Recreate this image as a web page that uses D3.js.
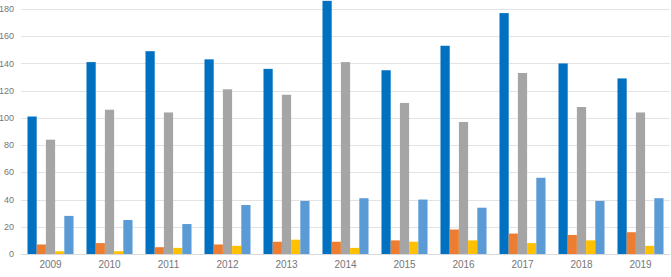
<!DOCTYPE html>
<html>
<head>
<meta charset="utf-8">
<script src="https://cdn.jsdelivr.net/npm/d3@7"></script>
<style>
  body { margin: 0; background: #fff; }
  text { font-family: "Liberation Sans Narrow", "Arial Narrow", "Liberation Sans", sans-serif; }
</style>
</head>
<body>
<div id="chart"></div>
<script>
const years = ["2009", "2010", "2011", "2012", "2013", "2014", "2015", "2016", "2017", "2018", "2019"];
const seriesNames = ["s1", "s2", "s3", "s4", "s5"];
const s1 = [101, 141, 149, 143, 136, 186, 135, 153, 177, 140, 129];
const s2 = [7, 8, 5, 7, 9, 9, 10, 18, 15, 14, 16];
const s3 = [84, 106, 104, 121, 117, 141, 111, 97, 133, 108, 104];
const s4 = [2, 2, 4.5, 6, 10.5, 4.5, 9, 10, 8, 10, 6];
const s5 = [28, 25, 22, 36, 39, 41, 40, 34, 56, 39, 41];
const yTicks = [0, 20, 40, 60, 80, 100, 120, 140, 160, 180];
const colors = ["#0070C0", "#ED7D31", "#A5A5A5", "#FFC000", "#5B9BD5"];

const allSeries = [s1, s2, s3, s4, s5];

const width = 671, height = 277;
const margin = {top: 9, right: 1, bottom: 23, left: 21};
const innerW = width - margin.left - margin.right;
const innerH = height - margin.top - margin.bottom;

const svg = d3.select("#chart")
  .append("svg")
  .attr("width", width)
  .attr("height", height);

const g = svg.append("g")
  .attr("transform", `translate(${margin.left},${margin.top})`);

const x = d3.scaleBand()
  .domain(years)
  .range([0, innerW])
  .paddingInner(0.22)
  .paddingOuter(0.11);

const xs = d3.scaleBand()
  .domain(seriesNames)
  .range([0, x.bandwidth()])
  .padding(0);

const y = d3.scaleLinear()
  .domain([0, 180])
  .range([innerH, 0]);

// gridlines
g.append("g")
  .selectAll("line")
  .data(yTicks.filter(d => d > 0))
  .join("line")
    .attr("x1", 0)
    .attr("x2", innerW)
    .attr("y1", d => Math.round(y(d)) + 0.5)
    .attr("y2", d => Math.round(y(d)) + 0.5)
    .attr("stroke", "#e3e3e3")
    .attr("stroke-width", 1);

// y labels
g.append("g")
  .selectAll("text")
  .data(yTicks)
  .join("text")
    .attr("x", -7)
    .attr("y", d => y(d))
    .attr("dy", "0.35em")
    .attr("text-anchor", "end")
    .attr("font-size", 9)
    .attr("fill", "#767676")
    .text(d => d);

// bars
const groups = g.append("g")
  .selectAll("g")
  .data(years)
  .join("g")
    .attr("transform", d => `translate(${x(d)},0)`);

groups.selectAll("rect")
  .data((d, i) => allSeries.map((s, k) => ({key: seriesNames[k], value: s[i], color: colors[k]})))
  .join("rect")
    .attr("x", d => xs(d.key))
    .attr("width", xs.bandwidth())
    .attr("y", d => y(d.value))
    .attr("height", d => y(0) - y(d.value))
    .attr("fill", d => d.color);

// baseline
g.append("line")
  .attr("x1", 0)
  .attr("x2", innerW)
  .attr("y1", Math.round(y(0)) + 0.5)
  .attr("y2", Math.round(y(0)) + 0.5)
  .attr("stroke", "#d9d9d9");

// x labels
g.append("g")
  .selectAll("text")
  .data(years)
  .join("text")
    .attr("x", d => x(d) + x.bandwidth() / 2)
    .attr("y", innerH + 10)
    .attr("dy", "0.35em")
    .attr("text-anchor", "middle")
    .attr("font-size", 10)
    .attr("fill", "#767676")
    .text(d => d);
</script>
</body>
</html>
